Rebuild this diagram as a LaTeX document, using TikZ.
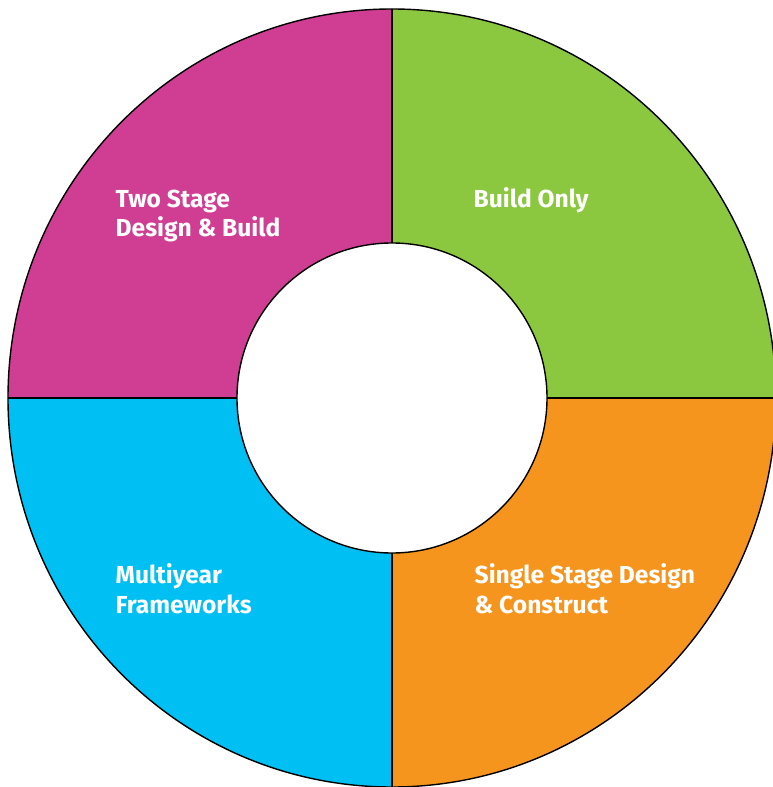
\documentclass[tikz,border=0pt]{standalone}
\usepackage{fontspec}
\setmainfont{Fira Sans}
\definecolor{twostage}{HTML}{D03E93}
\definecolor{buildonly}{HTML}{8CC83F}
\definecolor{singlestage}{HTML}{F6951E}
\definecolor{multiyear}{HTML}{00C0F3}

\begin{document}
\begin{tikzpicture}[x=0.02cm,y=0.02cm,line width=0.8pt,
    main label/.style={anchor=base west,text=white,align=left,inner sep=0pt,
      font=\bfseries\fontsize{14}{17}\selectfont}]
  \useasboundingbox (-392,-389) rectangle (381,398);
  \clip (-392,-389) rectangle (381,398);
  % quadrants
  \fill[buildonly] (0,0) -- (384,0) arc[start angle=0,end angle=90,x radius=384,y radius=389] -- cycle;
  \fill[twostage] (0,0) -- (0,389) arc[start angle=90,end angle=180,x radius=384,y radius=389] -- cycle;
  \fill[multiyear] (0,0) -- (-384,0) arc[start angle=180,end angle=270,x radius=384,y radius=389] -- cycle;
  \fill[singlestage] (0,0) -- (0,-389) arc[start angle=270,end angle=360,x radius=384,y radius=389] -- cycle;
  \draw (0,0) ellipse[x radius=384,y radius=389];
  \draw (-384,0) -- (384,0) (0,-389) -- (0,389);
  \draw[fill=white] (0,0) circle (155);

  % labels (anchored on the last line)
  \node[main label] (twostage) at (-277,161) {Two Stage\\Design \& Build};
  \node[main label] (buildonly) at (81,190) {Build Only};
  \node[main label] (multiyear) at (-277,-215) {Multiyear\\Frameworks};
  \node[main label] (singlestage) at (82,-215) {Single Stage Design\\\& Construct};
\end{tikzpicture}
\end{document}
